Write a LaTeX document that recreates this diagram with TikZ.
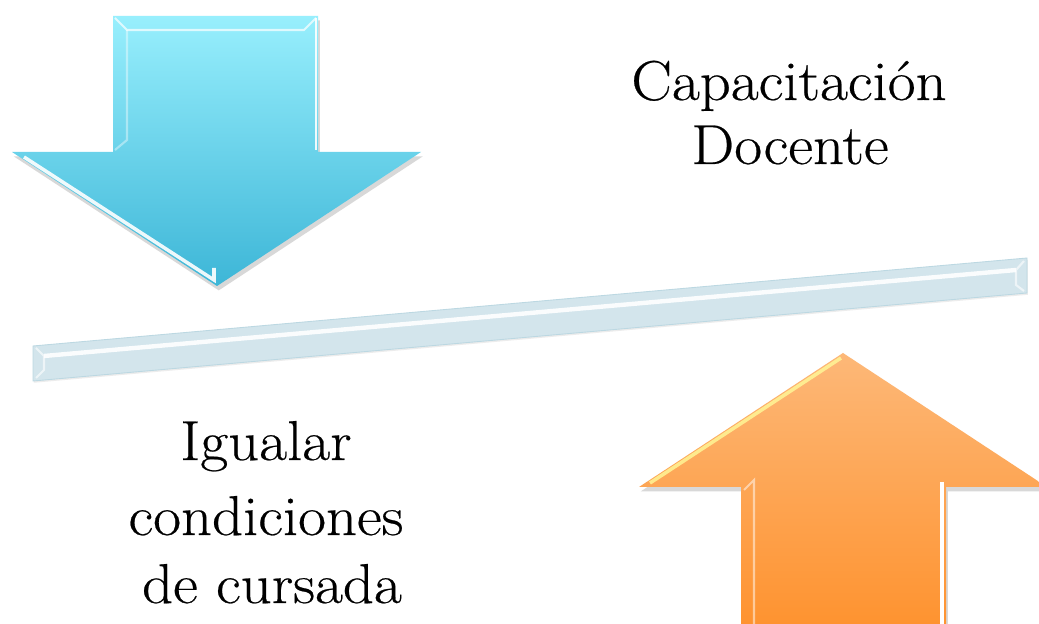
\documentclass[tikz,border=0pt]{standalone}
\usepackage{fontspec}
\setmainfont{Latin Modern Roman}[FakeStretch=1.08, FakeBold=0.4]
\usetikzlibrary{shadows}
\definecolor{bluetop}{HTML}{98EFFD}
\definecolor{bluebottom}{HTML}{3DB6D7}
\definecolor{orangetop}{HTML}{FDB878}
\definecolor{orangebottom}{HTML}{FE912C}
\definecolor{beamfill}{HTML}{D3E5EC}
\definecolor{beamedge}{HTML}{BCD8E2}
\tikzset{
  bevel/.style = {white, line width=1.2pt, opacity=0.7},
  arrowshadow/.style = {drop shadow={opacity=0.3, shadow xshift=1pt, shadow yshift=-2.5pt}}
}
\begin{document}
\begin{tikzpicture}[x=0.02cm, y=-0.02cm, every node/.style = {font=\fontsize{32}{36}\selectfont, anchor=base, inner sep=0pt}]
    \clip (0,0) rectangle (1039,624);
    \fill[white] (0,0) rectangle (1039,624);

    \shade[arrowshadow, top color=bluetop, bottom color=bluebottom]
      (113,16) -- (318,16) -- (318,152) -- (421,152) -- (217,286) -- (12,152) -- (113,152) -- cycle;
    \draw[bevel] (115,18) -- (127,30) -- (304,30) -- (316,18);
    \draw[bevel, opacity=0.4] (127,30) -- (127,140) -- (115,150);
    \draw[bevel, opacity=0.9] (316,18) -- (316,150);
    \draw[bevel, line width=2pt, opacity=0.9] (24,157) -- (214,280) -- (214,268);

    \shade[arrowshadow, top color=orangetop, bottom color=orangebottom]
      (843,353) -- (1047,487) -- (946,487) -- (946,640) -- (741,640) -- (741,487) -- (639,487) -- cycle;
    \draw[bevel, color=yellow!40, line width=2pt, opacity=0.8] (841,358) -- (650,483);
    \draw[bevel, opacity=0.5] (744,490) -- (754,480) -- (754,624);
    \draw[bevel, line width=2pt, opacity=1] (942,482) -- (942,624);

    \fill[beamfill, draw=beamedge, line width=0.5pt, drop shadow={opacity=0.15, shadow xshift=0.5pt, shadow yshift=-1pt}]
      (33,346) -- (1027,258) -- (1027,293) -- (33,381) -- cycle;
    \draw[white, line width=2.5pt, opacity=0.9] (44,356) -- (1016,270);
    \draw[bevel, opacity=0.6] (36,348) -- (44,356) -- (44,370) -- (36,378);
    \draw[bevel, opacity=0.6] (1024,261) -- (1016,270) -- (1016,285) -- (1024,291);

    \node (capacitacion) at (789, 100) {Capacitación};
    \node (docente) at (790, 164) {Docente};
    \node (igualar) at (266, 460) {Igualar};
    \node (condiciones) at (266, 535) {condiciones};
    \node (cursada) at (272, 603) {de cursada};
\end{tikzpicture}
\end{document}
